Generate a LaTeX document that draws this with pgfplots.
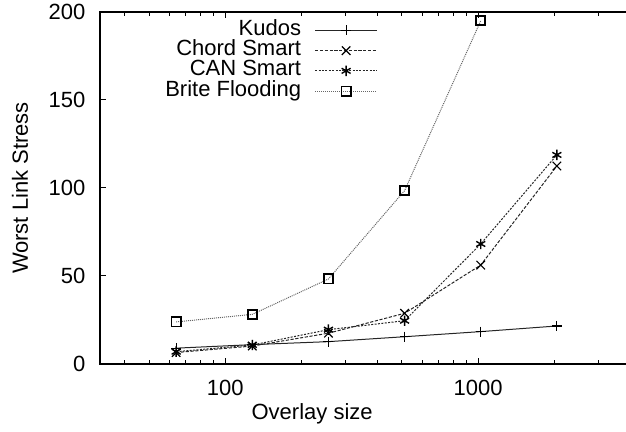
\documentclass[border=0pt]{standalone}
\usepackage{pgfplots}
\pgfplotsset{compat=1.18}
\usepackage{fontspec}
\setmainfont{Liberation Sans}

\pgfplotstableread{
x y
64 9
128 11
256 12.7
512 15.5
1024 18.4
2048 21.6
}\kudos
\pgfplotstableread{
x y
64 6.5
128 10.2
256 17.5
512 28.8
1024 56.2
2048 112.5
}\chord
\pgfplotstableread{
x y
64 7
128 10.8
256 19.5
512 24.6
1024 68.2
2048 118.8
}\can
\pgfplotstableread{
x y
64 23.9
128 28.2
256 48.3
512 98.5
1024 195
}\brite

\begin{document}
\begin{tikzpicture}[font=\fontsize{11pt}{13pt}\selectfont]
\useasboundingbox (-50pt,-34pt) rectangle (263pt,182pt);
\begin{axis}[
  scale only axis, width=266.5pt, height=176pt,
  at={(0,0)}, anchor=south west,
  xmode=log, xmin=32, xmax=4096, ymin=0, ymax=200,
  ytick={0,50,100,150,200},
  xtick={100,1000}, xticklabels={100,1000},
  minor xtick={40,50,60,70,80,90,200,300,400,500,600,700,800,900,2000,3000,4000},
  tick align=inside,
  major tick length=3pt, minor tick length=1.8pt,
  axis line style={line width=0.6pt},
  every tick/.style={line width=0.5pt, black},
  /pgf/number format/assume math mode=true,
  yticklabel style={xshift=-3.8pt},
  xticklabel style={yshift=-4.3pt},
  xlabel={Overlay size}, ylabel={Worst Link Stress},
  xlabel style={at={(axis description cs:0.398,-0.142)}, anchor=center},
  ylabel style={at={(axis description cs:-0.150,0.5)}, anchor=center},
  legend style={draw=none, fill=none, at={(axis description cs:0.5216,0.976)}, anchor=north east,
    inner sep=0pt, row sep=0.5pt, column sep=6.5pt,
    nodes={inner sep=0.3pt, text height=0.7em, text depth=0.2em}},
  legend cell align=right, legend plot pos=right,
  legend image code/.code={\draw[mark repeat=2,mark phase=2,#1] plot coordinates {(0pt,0pt) (15.5pt,0pt) (31pt,0pt)};},
]
\addplot[black!85, line width=0.5pt, mark=+, mark size=2.5pt, mark options={solid, black, line width=0.6pt}] table[x=x,y=y] {\kudos};
\addlegendentry{Kudos}
\addplot[black!85, line width=0.5pt, dash pattern=on 1.6pt off 0.8pt, mark=x, mark size=3pt, mark options={solid, black, line width=0.6pt}] table[x=x,y=y] {\chord};
\addlegendentry{Chord Smart}
\addplot[black!85, line width=0.5pt, dash pattern=on 1pt off 0.7pt, mark=asterisk, mark size=2.6pt, mark options={solid, black, line width=0.7pt}] table[x=x,y=y] {\can};
\addlegendentry{CAN Smart}
\addplot[black!60, line width=0.5pt, dash pattern=on 0.5pt off 0.5pt, mark=square, mark size=2.3pt, mark options={solid, black, line width=0.9pt}] table[x=x,y=y] {\brite};
\addlegendentry{Brite Flooding}
\end{axis}
\end{tikzpicture}
\end{document}
